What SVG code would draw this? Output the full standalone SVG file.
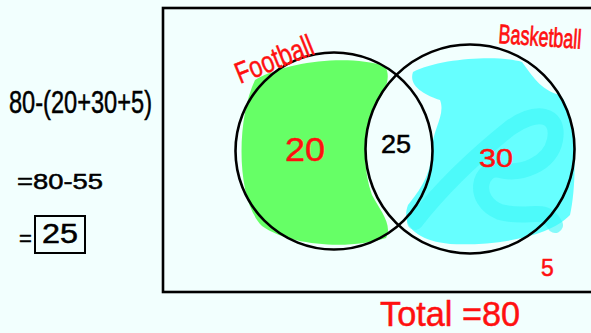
<svg xmlns="http://www.w3.org/2000/svg" width="591" height="333" viewBox="0 0 591 333">
<style>
.hand{font-family:"Liberation Sans","DejaVu Sans",sans-serif;stroke-width:0.5;}
.red{fill:#ff1010;stroke:#ff1010;}
.blk{fill:#000;stroke:#000;}
.ring{fill:none;stroke:#000;stroke-width:2.6;}
</style>
<rect x="0" y="0" width="591" height="333" fill="#f2fffe"/>
<g id="frame"><rect x="163" y="8" width="440" height="284" fill="none" stroke="#000" stroke-width="2.6"/></g>
<g id="football-fill">
<path d="M255,80 C290,60 350,55 385,66 C393,80 382,95 373,110 C363,140 363,170 372,195 C380,210 393,225 386,238 C350,250 290,246 262,226 C236,200 236,120 255,80 Z" fill="#66ff66"/>
</g>
<g id="basketball-fill">
<path d="M413,72 C440,58 500,55 522,62 C532,75 540,90 560,95 C576,110 578,180 570,215 C550,236 500,246 450,244 C418,241 400,226 408,205 C420,190 431,175 432,150 C432,130 446,115 440,100 C425,95 408,86 413,72 Z" fill="#66ffff"/>
<path d="M415,222 C440,190 470,160 510,128 C535,110 560,112 555,140 C550,165 520,175 500,170 C480,165 470,200 500,212 C530,220 545,205 555,225" fill="none" stroke="#3cf6f6" stroke-width="16" stroke-linecap="round" stroke-linejoin="round" opacity="0.6"/>
</g>
<g id="circles">
<circle id="football" class="ring" cx="334" cy="151" r="98.5"/>
<circle id="basketball" class="ring" cx="470" cy="149" r="104.5"/>
</g>
<g id="labels">
<text class="hand red" x="0" y="0" font-size="30" transform="translate(240,84) rotate(-22)" textLength="82" lengthAdjust="spacingAndGlyphs">Football</text>
<text class="hand red" x="0" y="0" font-size="18" stroke-width="0.35" transform="translate(498,43) rotate(4) scale(1,1.5)">Basketball</text>
<text class="hand red" x="285" y="161" font-size="33" textLength="40" lengthAdjust="spacingAndGlyphs">20</text>
<text class="hand blk" x="381" y="153" font-size="25" textLength="30" lengthAdjust="spacingAndGlyphs">25</text>
<text class="hand red" x="479" y="167" font-size="26" textLength="34" lengthAdjust="spacingAndGlyphs">30</text>
<text class="hand red" x="541" y="276" font-size="23">5</text>
<text class="hand red" x="380" y="326" font-size="35" textLength="140" lengthAdjust="spacingAndGlyphs">Total =80</text>
</g>
<g id="working">
<text class="hand blk" x="9" y="113" font-size="32" textLength="143" lengthAdjust="spacingAndGlyphs">80-(20+30+5)</text>
<text class="hand blk" x="17" y="189" font-size="22" textLength="86" lengthAdjust="spacingAndGlyphs">=80-55</text>
<text class="hand blk" x="19" y="246" font-size="22">=</text>
<rect x="35" y="216" width="50" height="37" fill="none" stroke="#000" stroke-width="2"/>
<text class="hand blk" x="42" y="243" font-size="27" textLength="36" lengthAdjust="spacingAndGlyphs">25</text>
</g>
</svg>
